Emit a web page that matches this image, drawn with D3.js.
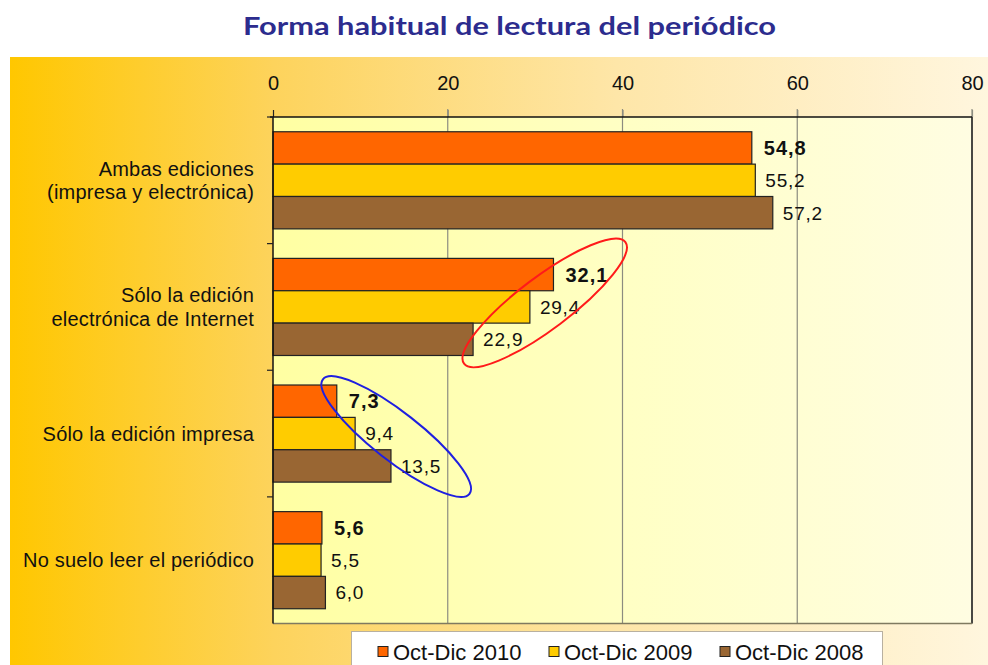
<!DOCTYPE html>
<html><head><meta charset="utf-8">
<script src="https://cdn.jsdelivr.net/npm/d3@7/dist/d3.min.js"></script>
<style>
html,body{margin:0;padding:0;background:#fff;}
svg{display:block;}
</style></head>
<body>
<script>
const title = "Forma habitual de lectura del periódico";
const categories = ["Ambas ediciones|(impresa y electrónica)", "Sólo la edición|electrónica de Internet", "Sólo la edición impresa", "No suelo leer el periódico"];
const seriesNames = ["Oct-Dic 2010", "Oct-Dic 2009", "Oct-Dic 2008"];
const values2010 = [54.8, 32.1, 7.3, 5.6];
const values2009 = [55.2, 29.4, 9.4, 5.5];
const values2008 = [57.2, 22.9, 13.5, 6.0];
const xTicks = [0, 20, 40, 60, 80];
const seriesColors = ["#FF6600", "#FFCC00", "#996633"];
// highlight ellipses: category index and value at centre
const highlightCats = [1, 2];
const highlightVals = [31.1, 14.1];

(function(){
const W = 988, H = 665;
const svg = d3.select("body").append("svg").attr("width", W).attr("height", H);
const defs = svg.append("defs");
const bg = defs.append("linearGradient").attr("id","bg").attr("x1","0").attr("x2","1").attr("y1","0").attr("y2","0");
[["0","#FFC700"],["0.27","#FDD35C"],["0.62","#FEE6A8"],["1","#FFF6DE"]].forEach(s=>bg.append("stop").attr("offset",s[0]).attr("stop-color",s[1]));
const pg = defs.append("linearGradient").attr("id","pg").attr("x1","0").attr("x2","1").attr("y1","0").attr("y2","0");
[["0","#FFFFA2"],["0.5","#FFFFC4"],["1","#FFFDE2"]].forEach(s=>pg.append("stop").attr("offset",s[0]).attr("stop-color",s[1]));

// background band
svg.append("rect").attr("x",10).attr("y",57).attr("width",W-10).attr("height",H-57).attr("fill","url(#bg)");

// title
svg.append("text").attr("x",509.5).attr("y",35).attr("text-anchor","middle")
  .attr("font-family","Lato, 'Open Sans', sans-serif").attr("font-weight",700).attr("font-size",25)
  .attr("fill","#2C2C8E").attr("textLength",533).attr("lengthAdjust","spacingAndGlyphs").text(title);

const pL = 273, pR = 972, pT = 117, pB = 623.5;
const x = d3.scaleLinear().domain([0,80]).range([pL,pR]);
const y = d3.scaleBand().domain(categories).range([pT,pB]).padding(0);
const yi = d3.scaleBand().domain(d3.range(3)).range([0,y.bandwidth()]).paddingInner(0).paddingOuter(0.456);

// plot area
svg.append("rect").attr("x",pL).attr("y",pT).attr("width",pR-pL).attr("height",pB-pT).attr("fill","url(#pg)");

// grid lines
svg.append("g").selectAll("line").data(xTicks.filter(t=>t>0)).join("line")
  .attr("x1",d=>x(d)).attr("x2",d=>x(d)).attr("y1",pT-8).attr("y2",pB)
  .attr("stroke","#8C8C80").attr("stroke-width",1.2);

// top axis ticks & labels
const xAxis = svg.append("g").attr("transform",`translate(0,${pT})`)
  .call(d3.axisTop(x).tickValues(xTicks).tickSize(7).tickPadding(20).tickFormat(d3.format("d")));
xAxis.select(".domain").remove();
xAxis.selectAll(".tick line").attr("stroke",(d)=>d===0?"#222":"#8C8C80").attr("stroke-width",1.2);
xAxis.selectAll("text").attr("font-family","'Liberation Sans', Arial, sans-serif").attr("font-size",20).attr("fill","#111");

// plot borders
svg.append("line").attr("x1",pL-3).attr("x2",pR).attr("y1",pT).attr("y2",pT).attr("stroke","#111").attr("stroke-width",1.5);
svg.append("line").attr("x1",pR).attr("x2",pR).attr("y1",pT).attr("y2",pB).attr("stroke","#222").attr("stroke-width",1.5);
svg.append("line").attr("x1",pL).attr("x2",pR).attr("y1",pB).attr("y2",pB).attr("stroke","#7F7A60").attr("stroke-width",1.5);

// bars
const seriesVals = [values2010, values2009, values2008];
const bars = [];
categories.forEach((c,ci)=>seriesVals.forEach((vals,si)=>bars.push({c,ci,si,v:vals[ci]})));
svg.append("g").selectAll("rect").data(bars).join("rect")
  .attr("x",x(0)).attr("y",d=>y(d.c)+yi(d.si)).attr("width",d=>x(d.v)-x(0)).attr("height",yi.bandwidth())
  .attr("fill",d=>seriesColors[d.si]).attr("stroke","#222").attr("stroke-width",1.2);

// value labels
const fmt = v => v.toFixed(1).replace(".",",");
svg.append("g").selectAll("text").data(bars).join("text")
  .attr("x",d=>x(d.v)+(d.si===0?12:10)).attr("y",d=>y(d.c)+yi(d.si)+yi.bandwidth()/2)
  .attr("dy","0.36em")
  .attr("font-family","'Liberation Sans', Arial, sans-serif")
  .attr("font-size",d=>d.si===0?20:19).attr("font-weight",d=>d.si===0?700:400)
  .attr("letter-spacing",d=>d.si===0?"1px":"0.8px")
  .attr("fill","#111").text(d=>fmt(d.v));

// left axis
const yAxis = svg.append("g").attr("transform",`translate(${pL},0)`);
yAxis.append("line").attr("x1",0).attr("x2",0).attr("y1",pT).attr("y2",pB).attr("stroke","#111").attr("stroke-width",1.5);
const bounds = categories.map(c=>y(c));
yAxis.selectAll("line.t").data(bounds).join("line").attr("class","t")
  .attr("x1",-6).attr("x2",0).attr("y1",d=>d).attr("y2",d=>d).attr("stroke","#222").attr("stroke-width",1.2);

// category labels
const catG = svg.append("g");
categories.forEach(c=>{
  const lines = c.split("|");
  const cy = y(c)+y.bandwidth()/2;
  const lh = 23.5;
  lines.forEach((ln,i)=>{
    catG.append("text").attr("x",254).attr("y",cy+(i-(lines.length-1)/2)*lh).attr("dy","0.36em")
      .attr("text-anchor","end").attr("font-family","'Liberation Sans', Arial, sans-serif")
      .attr("font-size",20).attr("letter-spacing","0.2px").attr("fill","#111").text(ln);
  });
});

// highlight ellipses
const ellGeom = [{rx:101, ry:26, a:-37, dy:-4, col:"#FF1A1A"},{rx:93, ry:24, a:38, dy:3, col:"#1F1FE0"}];
highlightCats.forEach((ci,i)=>{
  const g = ellGeom[i];
  const cx = x(highlightVals[i]), cy = y(categories[ci])+y.bandwidth()/2+g.dy;
  svg.append("ellipse").attr("cx",0).attr("cy",0).attr("rx",g.rx).attr("ry",g.ry)
    .attr("transform",`translate(${cx},${cy}) rotate(${g.a})`)
    .attr("fill","none").attr("stroke",g.col).attr("stroke-width",2);
});

// legend
const lg = svg.append("g");
lg.append("rect").attr("x",351.5).attr("y",631.5).attr("width",531).attr("height",50).attr("fill","#fff").attr("stroke","#B8B0A0").attr("stroke-width",1);
const lx = d3.scalePoint().domain(seriesNames).range([378,720]);
seriesNames.forEach((n,i)=>{
  lg.append("rect").attr("x",lx(n)).attr("y",646.5).attr("width",10).attr("height",10)
    .attr("fill",seriesColors[i]).attr("stroke","#222").attr("stroke-width",1);
  lg.append("text").attr("x",lx(n)+15).attr("y",652).attr("dy","0.36em")
    .attr("font-family","'Liberation Sans', Arial, sans-serif").attr("font-size",22).attr("fill","#111").text(n);
});
})();
</script>
</body></html>
